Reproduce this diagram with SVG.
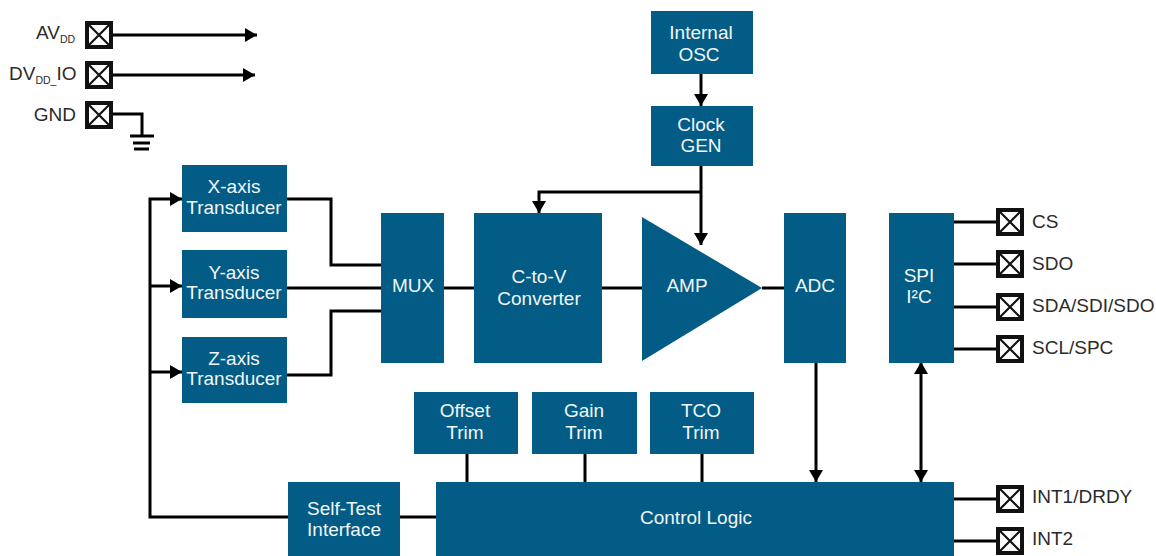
<svg xmlns="http://www.w3.org/2000/svg" width="1156" height="556" viewBox="0 0 1156 556">
<style>
text{font-family:"Liberation Sans",Arial,sans-serif;font-size:19px}
.b{fill:#025c85}
.w{fill:#f2f6f8;text-anchor:middle}
.k{fill:#2b2b2b}
.e{text-anchor:end}
.s{font-size:10.500px}
.c path,.c line{fill:none;stroke:#000;stroke-width:3}
.p rect{fill:#fff;stroke:#111;stroke-width:4}
.p path{fill:none;stroke:#111;stroke-width:2.2}
</style>
<defs>
<marker id="a" markerUnits="userSpaceOnUse" markerWidth="13" markerHeight="14" refX="12" refY="7" orient="auto-start-reverse"><path d="M0,0L12,7L0,14Z" fill="#000"/></marker>
<g id="pin" class="p"><rect x="-12" y="-12" width="24" height="24"/><path d="M-12,-12L12,12M12,-12L-12,12"/></g>
</defs>
<g id="connectors" class="c">
<path d="M112,35H257" marker-end="url(#a)"/>
<path d="M112,75H255" marker-end="url(#a)"/>
<path d="M112,114H142V136"/>
<line x1="130" y1="136" x2="154" y2="136"/>
<line x1="133" y1="143" x2="150" y2="143"/>
<line x1="134" y1="149" x2="149" y2="149"/>
<path d="M436,517H150V199H182" marker-end="url(#a)"/>
<path d="M150,286H182" marker-end="url(#a)"/>
<path d="M150,372H182" marker-end="url(#a)"/>
<path d="M286,199H331V265H381"/>
<path d="M286,288H381"/>
<path d="M286,375H331V311H381"/>
<path d="M443,288H474"/>
<path d="M602,288H642"/>
<path d="M762,288H784"/>
<path d="M701,74V106" marker-end="url(#a)"/>
<path d="M701,166V245" marker-end="url(#a)"/>
<path d="M701,192H539V213" marker-end="url(#a)"/>
<path d="M816,362V482" marker-end="url(#a)"/>
<path d="M921,362V482" marker-start="url(#a)" marker-end="url(#a)"/>
<path d="M467,454V482M585,454V482M702,454V482"/>
<path d="M953,222H998M953,264H998M953,307H998M953,349H998M953,499H998M953,541H998"/>
</g>
<g id="osc"><rect class="b" x="651" y="11" width="102" height="63"/><text class="w" x="701" y="39">Internal</text><text class="w" x="699" y="61">OSC</text></g>
<g id="clk"><rect class="b" x="651" y="106" width="102" height="60"/><text class="w" x="701" y="131">Clock</text><text class="w" x="701" y="152">GEN</text></g>
<g id="x"><rect class="b" x="182" y="165" width="105" height="67"/><text class="w" x="234" y="193">X-axis</text><text class="w" x="234" y="214">Transducer</text></g>
<g id="y"><rect class="b" x="182" y="250" width="105" height="68"/><text class="w" x="234" y="279">Y-axis</text><text class="w" x="234" y="299">Transducer</text></g>
<g id="z"><rect class="b" x="182" y="337" width="105" height="66"/><text class="w" x="234" y="365">Z-axis</text><text class="w" x="234" y="385">Transducer</text></g>
<g id="mux"><rect class="b" x="381" y="213" width="63" height="150"/><text class="w" x="413" y="292">MUX</text></g>
<g id="c2v"><rect class="b" x="474" y="213" width="128" height="150"/><text class="w" x="539" y="283">C-to-V</text><text class="w" x="539" y="305">Converter</text></g>
<g id="amp"><path class="b" d="M642,217L762,288L642,361Z"/><text class="w" x="687" y="292">AMP</text></g>
<g id="adc"><rect class="b" x="784" y="213" width="62" height="150"/><text class="w" x="815" y="292">ADC</text></g>
<g id="spi"><rect class="b" x="889" y="213" width="65" height="150"/><text class="w" x="919" y="282">SPI</text><text class="w" x="919" y="303">I²C</text></g>
<g id="offset"><rect class="b" x="414" y="392" width="104" height="62"/><text class="w" x="465" y="417">Offset</text><text class="w" x="465" y="439">Trim</text></g>
<g id="gain"><rect class="b" x="532" y="392" width="105" height="62"/><text class="w" x="584" y="417">Gain</text><text class="w" x="584" y="439">Trim</text></g>
<g id="tco"><rect class="b" x="650" y="392" width="104" height="62"/><text class="w" x="701" y="417">TCO</text><text class="w" x="701" y="439">Trim</text></g>
<g id="selftest"><rect class="b" x="288" y="482" width="112" height="74"/><text class="w" x="344" y="515">Self-Test</text><text class="w" x="344" y="536">Interface</text></g>
<g id="control"><rect class="b" x="436" y="482" width="518" height="74"/><text class="w" x="696" y="524">Control Logic</text></g>
<g id="p-avdd"><use href="#pin" x="99" y="35"/><text class="k" x="36" y="39">AV<tspan class="s" dy="4">DD</tspan></text></g>
<g id="p-dvdd"><use href="#pin" x="99" y="75"/><text class="k" x="9" y="80">DV<tspan class="s" dy="4">DD_</tspan><tspan dy="-4">IO</tspan></text></g>
<g id="p-gnd"><use href="#pin" x="99" y="115"/><text class="k e" x="76" y="121">GND</text></g>
<g id="p-cs"><use href="#pin" x="1010" y="222"/><text class="k" x="1032" y="228">CS</text></g>
<g id="p-sdo"><use href="#pin" x="1010" y="264"/><text class="k" x="1032" y="270">SDO</text></g>
<g id="p-sda"><use href="#pin" x="1010" y="307"/><text class="k" x="1032" y="312">SDA/SDI/SDO</text></g>
<g id="p-scl"><use href="#pin" x="1010" y="349"/><text class="k" x="1032" y="354">SCL/SPC</text></g>
<g id="p-int1"><use href="#pin" x="1010" y="499"/><text class="k" x="1032" y="503">INT1/DRDY</text></g>
<g id="p-int2"><use href="#pin" x="1010" y="541"/><text class="k" x="1032" y="545">INT2</text></g>
</svg>
